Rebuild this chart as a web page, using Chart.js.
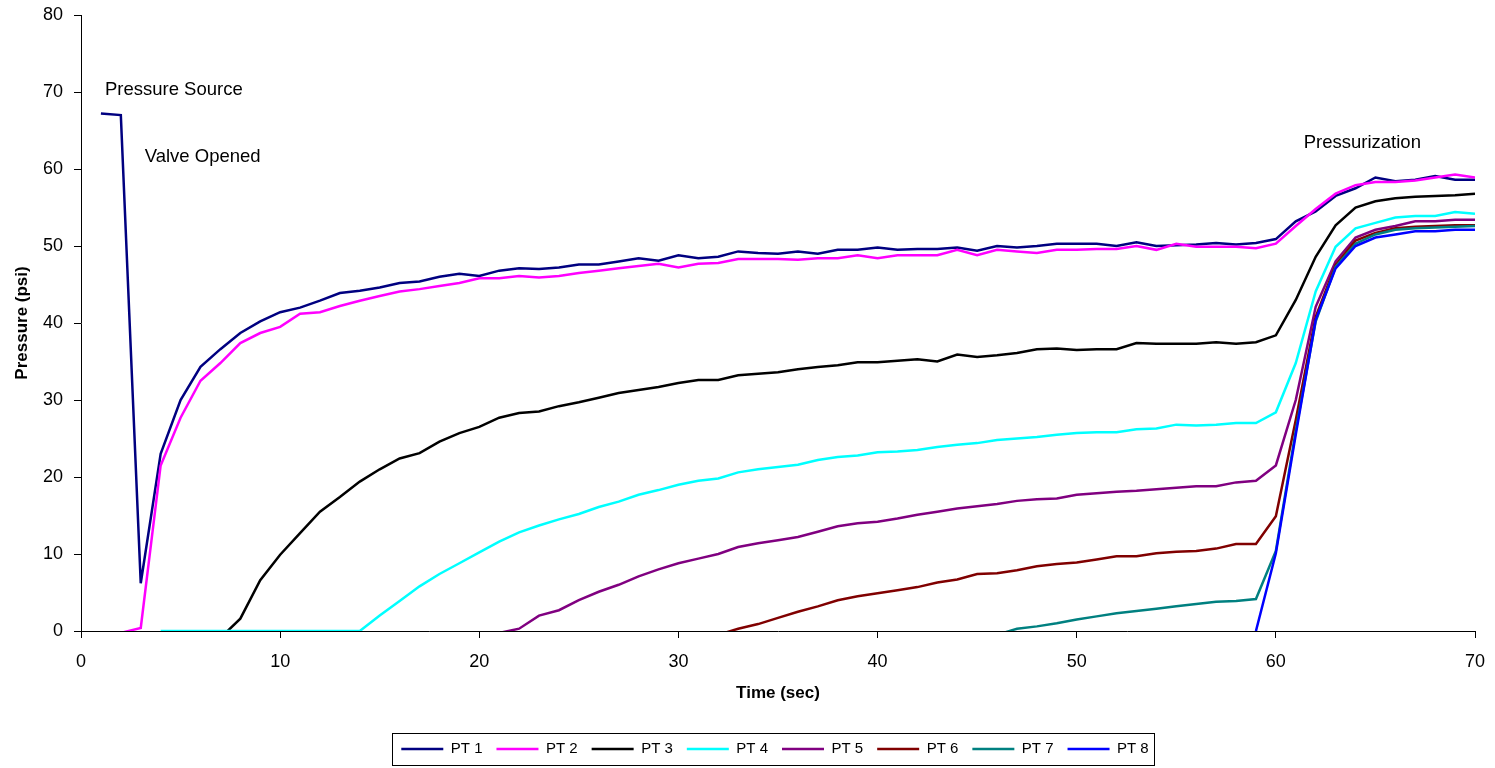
<!DOCTYPE html>
<html>
<head>
<meta charset="utf-8">
<script src="https://cdn.jsdelivr.net/npm/chart.js@4.4.1/dist/chart.umd.min.js"></script>
<style>
  html, body { margin: 0; padding: 0; background: #fff; }
  #wrap { width: 1495px; height: 768px; position: relative; }
</style>
</head>
<body>
<div id="wrap"><canvas id="myChart"></canvas></div>
<script>
// time in seconds, one reading per second
const times = [
  1, 2, 3, 4, 5, 6, 7, 8, 9, 10,
  11, 12, 13, 14, 15, 16, 17, 18, 19, 20,
  21, 22, 23, 24, 25, 26, 27, 28, 29, 30,
  31, 32, 33, 34, 35, 36, 37, 38, 39, 40,
  41, 42, 43, 44, 45, 46, 47, 48, 49, 50,
  51, 52, 53, 54, 55, 56, 57, 58, 59, 60,
  61, 62, 63, 64, 65, 66, 67, 68, 69, 70
]

// pressure readings (psi), null = no reading
const pt1 = [
  67.2, 67.0, 6.2, 23.0, 30.0, 34.3, 36.6, 38.7, 40.2, 41.4,
  42.0, 42.9, 43.9, 44.2, 44.6, 45.2, 45.4, 46.0, 46.4, 46.1,
  46.8, 47.1, 47.0, 47.2, 47.6, 47.6, 48.0, 48.4, 48.1, 48.8,
  48.4, 48.6, 49.3, 49.1, 49.0, 49.3, 49.0, 49.5, 49.5, 49.8,
  49.5, 49.6, 49.6, 49.8, 49.4, 50.0, 49.8, 50.0, 50.3, 50.3,
  50.3, 50.0, 50.5, 50.0, 50.1, 50.2, 50.4, 50.2, 50.4, 50.9,
  53.2, 54.5, 56.5, 57.5, 58.9, 58.4, 58.6, 59.1, 58.6, 58.6
]
const pt2 = [
  null, -0.25, 0.4, 21.5, 27.7, 32.5, 34.8, 37.4, 38.7, 39.5,
  41.2, 41.4, 42.2, 42.9, 43.5, 44.1, 44.4, 44.8, 45.2, 45.8,
  45.8, 46.1, 45.9, 46.1, 46.5, 46.8, 47.1, 47.4, 47.7, 47.2,
  47.7, 47.8, 48.3, 48.3, 48.3, 48.2, 48.4, 48.4, 48.8, 48.4,
  48.8, 48.8, 48.8, 49.5, 48.8, 49.5, 49.3, 49.1, 49.5, 49.5,
  49.6, 49.6, 50.0, 49.5, 50.3, 49.9, 49.9, 49.9, 49.7, 50.3,
  52.6, 54.8, 56.8, 57.9, 58.3, 58.3, 58.5, 58.9, 59.3, 58.9
]
const pt3 = [
  null, null, null, null, null, null, -0.9, 1.6, 6.6, 9.9,
  12.7, 15.5, 17.4, 19.4, 21.0, 22.4, 23.1, 24.6, 25.7, 26.5,
  27.7, 28.3, 28.5, 29.2, 29.7, 30.3, 30.9, 31.3, 31.7, 32.2,
  32.6, 32.6, 33.2, 33.4, 33.6, 34.0, 34.3, 34.5, 34.9, 34.9,
  35.1, 35.3, 35.0, 35.9, 35.6, 35.8, 36.1, 36.6, 36.7, 36.5,
  36.6, 36.6, 37.4, 37.3, 37.3, 37.3, 37.5, 37.3, 37.5, 38.4,
  43.0, 48.6, 52.7, 55.0, 55.8, 56.2, 56.4, 56.5, 56.6, 56.8
]
const pt4 = [
  null, null, null, 0, 0, 0, 0, 0, 0, 0,
  0, 0, 0, 0, 2.0, 3.9, 5.8, 7.4, 8.8, 10.2,
  11.6, 12.8, 13.7, 14.5, 15.2, 16.1, 16.8, 17.7, 18.3, 19.0,
  19.5, 19.8, 20.6, 21.0, 21.3, 21.6, 22.2, 22.6, 22.8, 23.2,
  23.3, 23.5, 23.9, 24.2, 24.4, 24.8, 25.0, 25.2, 25.5, 25.7,
  25.8, 25.8, 26.2, 26.3, 26.8, 26.7, 26.8, 27.0, 27.0, 28.4,
  34.8, 44.1, 49.9, 52.3, 53.0, 53.7, 53.9, 53.9, 54.4, 54.2
]
const pt5 = [
  null, null, null, null, null, null, null, null, null, null,
  null, null, null, null, null, null, null, null, null, null,
  -0.25, 0.3, 2.0, 2.7, 4.0, 5.1, 6.0, 7.1, 8.0, 8.8,
  9.4, 10.0, 10.9, 11.4, 11.8, 12.2, 12.9, 13.6, 14.0, 14.2,
  14.6, 15.1, 15.5, 15.9, 16.2, 16.5, 16.9, 17.1, 17.2, 17.7,
  17.9, 18.1, 18.2, 18.4, 18.6, 18.8, 18.8, 19.3, 19.5, 21.5,
  30.0, 42.1, 48.0, 51.1, 52.1, 52.6, 53.2, 53.2, 53.4, 53.4
]
const pt6 = [
  null, null, null, null, null, null, null, null, null, null,
  null, null, null, null, null, null, null, null, null, null,
  null, null, null, null, null, null, null, null, null, null,
  null, -0.5, 0.3, 0.9, 1.7, 2.5, 3.2, 4.0, 4.5, 4.9,
  5.3, 5.7, 6.3, 6.7, 7.4, 7.5, 7.9, 8.4, 8.7, 8.9,
  9.3, 9.7, 9.7, 10.1, 10.3, 10.4, 10.7, 11.3, 11.3, 14.9,
  27.4, 40.8, 47.5, 50.7, 51.7, 52.3, 52.5, 52.6, 52.7, 52.7
]
const pt7 = [
  null, null, null, null, null, null, null, null, null, null,
  null, null, null, null, null, null, null, null, null, null,
  null, null, null, null, null, null, null, null, null, null,
  null, null, null, null, null, null, null, null, null, null,
  null, null, null, null, null, -0.5, 0.3, 0.6, 1.0, 1.5,
  1.9, 2.3, 2.6, 2.9, 3.2, 3.5, 3.8, 3.9, 4.15, 10.4,
  26.0, 40.2, 47.3, 50.3, 51.5, 52.1, 52.3, 52.4, 52.5, 52.6
]
const pt8 = [
  null, null, null, null, null, null, null, null, null, null,
  null, null, null, null, null, null, null, null, null, null,
  null, null, null, null, null, null, null, null, null, null,
  null, null, null, null, null, null, null, null, null, null,
  null, null, null, null, null, null, null, null, null, null,
  null, null, null, null, null, null, null, null, 0, 10.1,
  25.5, 40.4, 47.1, 50.0, 51.1, 51.5, 51.9, 51.9, 52.1, 52.1
]

const seriesNames = ['PT 1', 'PT 2', 'PT 3', 'PT 4', 'PT 5', 'PT 6', 'PT 7', 'PT 8']
const seriesData = [pt1, pt2, pt3, pt4, pt5, pt6, pt7, pt8]
const seriesColors = ['#000080', '#FF00FF', '#000000', '#00FFFF', '#800080', '#800000', '#008080', '#0000FF']

// text notes on the plot, placed in axis units
const noteTexts = ['Pressure Source', 'Valve Opened', 'Pressurization']
const noteX = [1.2, 3.2, 61.4]
const noteY = [70.3, 61.6, 63.4]

const fontFamily = "'Liberation Sans', Arial, sans-serif"

const datasets = seriesData.map(function (values, k) {
  return {
    label: seriesNames[k],
    data: times.map((t, i) => ({ x: t, y: values[i] })),
    borderColor: seriesColors[k],
    backgroundColor: seriesColors[k],
    borderWidth: 2.5,
    pointRadius: 0,
    pointHoverRadius: 0,
    pointStyle: 'line',
    tension: 0,
    order: seriesNames.length - k   // later series drawn on top
  }
})

const extras = {
  id: 'extras',
  afterLayout(chart) {
    // centre the legend row under the plot
    const lg = chart.legend
    const shift = 775 - (lg.left + lg.right) / 2
    lg.left += shift
    lg.right += shift
  },
  afterDatasetsDraw(chart) {
    const ctx = chart.ctx
    const xs = chart.scales.x
    const ys = chart.scales.y
    ctx.save()
    ctx.fillStyle = '#000'
    ctx.font = '18.5px ' + fontFamily
    ctx.textAlign = 'left'
    ctx.textBaseline = 'middle'
    for (let i = 0; i < noteTexts.length; i++) {
      ctx.fillText(noteTexts[i], xs.getPixelForValue(noteX[i]), ys.getPixelForValue(noteY[i]))
    }
    ctx.restore()
  },
  afterDraw(chart) {
    const boxes = chart.legend.legendHitBoxes
    if (!boxes || !boxes.length) return
    const first = boxes[0]
    const last = boxes[boxes.length - 1]
    const mid = first.top + first.height / 2
    const ctx = chart.ctx
    ctx.save()
    ctx.strokeStyle = '#000'
    ctx.lineWidth = 1
    ctx.strokeRect(Math.round(first.left - 9) + 0.5, Math.round(mid - 16) + 0.5,
      Math.round(last.left + last.width + 15 - first.left), 32)
    ctx.restore()
  }
}

const ctx = document.getElementById('myChart')

new Chart(ctx, {
  type: 'line',
  data: { datasets: datasets },
  options: {
    responsive: true,
    maintainAspectRatio: false,
    animation: false,
    events: [],
    layout: { padding: { left: 0, right: 20, top: 15, bottom: 1.5 } },
    scales: {
      x: {
        type: 'linear',
        min: 0,
        max: 70,
        afterFit: function (scale) {
          scale.height = 96.5
          scale.paddingLeft = 0
          scale.paddingRight = 0
        },
        ticks: {
          stepSize: 10,
          maxRotation: 0,
          padding: 13,
          color: '#000',
          font: { family: fontFamily, size: 18 }
        },
        grid: { display: true, drawOnChartArea: false, drawTicks: true, tickLength: 7, color: '#000' },
        border: { display: true, color: '#000', width: 1 },
        title: {
          display: true,
          text: 'Time (sec)',
          color: '#000',
          padding: { top: 0, bottom: 24 },
          font: { family: fontFamily, size: 17, weight: 'bold' }
        }
      },
      y: {
        min: 0,
        max: 80,
        afterFit: function (scale) {
          scale.width = 81
          scale.paddingTop = 0
          scale.paddingBottom = 0
        },
        ticks: {
          stepSize: 10,
          padding: 11,
          color: '#000',
          font: { family: fontFamily, size: 18 }
        },
        grid: { display: true, drawOnChartArea: false, drawTicks: true, tickLength: 7, color: '#000' },
        border: { display: true, color: '#000', width: 1 },
        title: {
          display: true,
          text: 'Pressure (psi)',
          color: '#000',
          padding: { top: 12, bottom: 0 },
          font: { family: fontFamily, size: 17, weight: 'bold' }
        }
      }
    },
    plugins: {
      legend: {
        position: 'bottom',
        labels: {
          usePointStyle: true,
          pointStyleWidth: 42,
          padding: 14,
          color: '#000',
          font: { family: fontFamily, size: 15 },
          sort: (a, b) => a.datasetIndex - b.datasetIndex
        }
      },
      tooltip: { enabled: false }
    }
  },
  plugins: [extras]
})
</script>
</body>
</html>
